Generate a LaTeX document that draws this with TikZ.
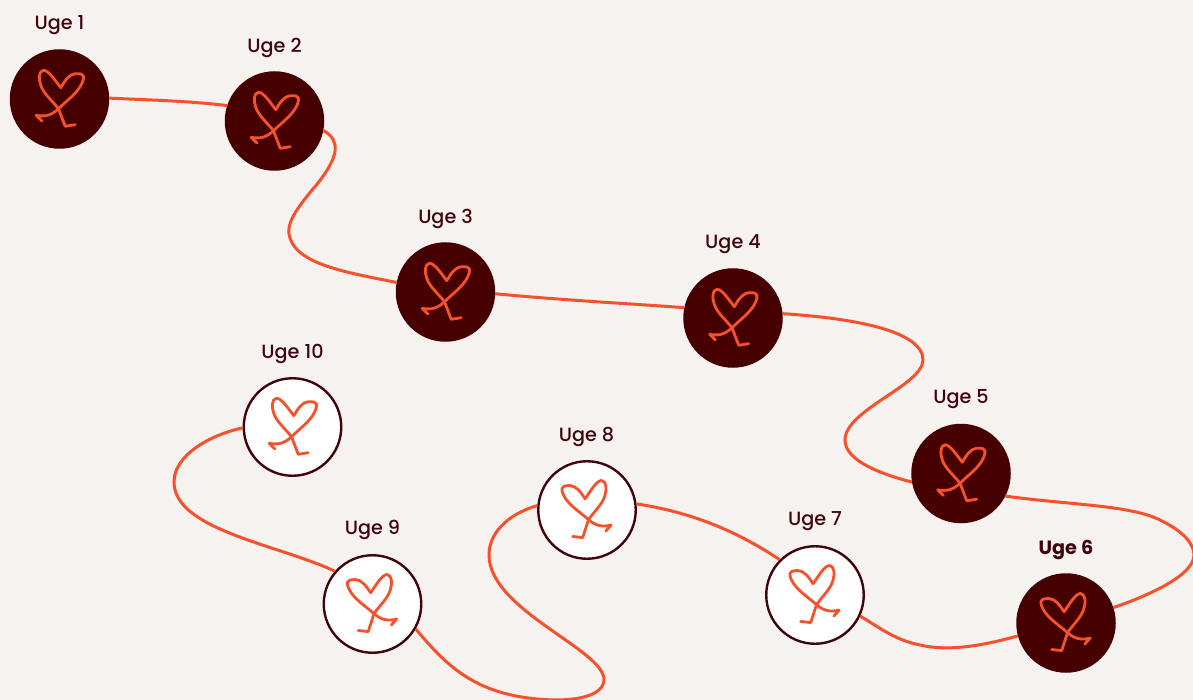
\documentclass[tikz,border=0pt]{standalone}
\usepackage{fontspec}
\setmainfont{Poppins}[UprightFont=* Medium,BoldFont=* Bold]
\definecolor{bgcol}{HTML}{F6F2EF}
\definecolor{darkcol}{HTML}{470000}
\definecolor{redcol}{HTML}{F4512C}
\definecolor{textcol}{HTML}{40040C}
\tikzset{
    done/.style={circle,fill=darkcol,minimum size=99.5pt,inner sep=0pt,outer sep=0pt},
    todo/.style={circle,draw=textcol,line width=2.4pt,fill=white,minimum size=97.5pt,inner sep=0pt,outer sep=1.2pt},
    uge/.style={text=textcol,font=\fontsize{19.2}{21}\selectfont,inner sep=0pt},
    road/.style={draw=redcol,line width=3pt},
    heartmark/.pic={
        \draw[redcol,line width=2.8pt,line cap=round,line join=round]
            (-17.7,22) -- (-23.3,16.3) .. controls (-14.3,18) and (-7.7,16.3) .. (-1,9.7)
            .. controls (8,1) and (18,-6) .. (22.3,-15.3)
            .. controls (25,-22) and (26,-26) .. (15.7,-25.3)
            .. controls (10,-25) and (5,-18) .. (1.3,-11.3)
            .. controls (-4,-18) and (-11,-29) .. (-16,-28.7)
            .. controls (-21,-28) and (-21,-20) .. (-18.5,-13)
            .. controls (-15.5,-5) and (-8,1) .. (-1,9.7)
            -- (5.7,27.3) -- (15.7,25.7) ;
    }
}
\begin{document}
\begin{tikzpicture}[x=1pt,y=-1pt]
    \useasboundingbox (0,0) rectangle (1193,700) ;
    \fill[bgcol] (0,0) rectangle (1193,700) ;
    % weeks
    \node[done] (w1) at (59.5,99) {} ;
    \node[done] (w2) at (274.5,121) {} ;
    \node[done] (w3) at (445.5,292) {} ;
    \node[done] (w4) at (733,318) {} ;
    \node[done] (w5) at (961,473.5) {} ;
    \node[done] (w6) at (1066,623) {} ;
    \node[todo] (w7) at (815,595) {} ;
    \node[todo] (w8) at (587,510) {} ;
    \node[todo] (w9) at (372.5,604) {} ;
    \node[todo] (w10) at (292.5,427) {} ;
    % hearts
    \foreach \w in {w1,w2,w3,w4,w5,w10} \pic at (\w) {heartmark} ;
    \foreach \w in {w6,w7,w8,w9} \pic[xscale=-1,rotate=-3] at (\w) {heartmark} ;
    % labels
    \node[uge] (l1) at (59.5,25.5) {Uge 1} ;
    \node[uge] (l2) at (274.5,47.5) {Uge 2} ;
    \node[uge] (l3) at (445.5,218.5) {Uge 3} ;
    \node[uge] (l4) at (733,244.5) {Uge 4} ;
    \node[uge] (l5) at (961,399.5) {Uge 5} ;
    \node[uge] (l6) at (1066,549.5) {\textbf{Uge 6}} ;
    \node[uge] (l7) at (815,521.5) {Uge 7} ;
    \node[uge] (l8) at (586.5,436.5) {Uge 8} ;
    \node[uge] (l9) at (372.5,529.5) {Uge 9} ;
    \node[uge] (l10) at (292.5,353.5) {Uge 10} ;
    % road
    \draw[road] (w1.1) .. controls (150,100) and (190,101) .. (w2.162) ;
    \draw[road] (w2.-11) .. controls (340,140) and (340,155) .. (318,183)
        .. controls (295,210) and (285,225) .. (290,238)
        .. controls (298,265) and (350,273) .. (w3.169) ;
    \draw[road] (w3.-2) .. controls (560,300) and (620,303) .. (w4.168) ;
    \draw[road] (w4.5) .. controls (850,318) and (923,330) .. (923,360)
        .. controls (923,385) and (845,410) .. (845,440)
        .. controls (845,462) and (885,475) .. (w5.190) ;
    \draw[road] (w5.-27) .. controls (1070,505) and (1130,505) .. (1160,520)
        .. controls (1185,532) and (1194,545) .. (1194,555)
        .. controls (1194,575) and (1150,595) .. (w6.18) ;
    \draw[road] (w6.195) .. controls (985,645) and (950,652) .. (920,645)
        .. controls (895,640) and (880,628) .. (w7.-25) ;
    \draw[road] (w7.135) .. controls (735,530) and (690,512) .. (w8.7) ;
    \draw[road] (w8.175) .. controls (505,515) and (489,535) .. (489,555)
        .. controls (489,610) and (605,650) .. (604,680)
        .. controls (603,695) and (580,700) .. (555,700)
        .. controls (480,698) and (450,670) .. (w9.-30) ;
    \draw[road] (w9.139) .. controls (280,545) and (174,530) .. (174,482)
        .. controls (174,455) and (210,435) .. (w10.181) ;
\end{tikzpicture}
\end{document}
